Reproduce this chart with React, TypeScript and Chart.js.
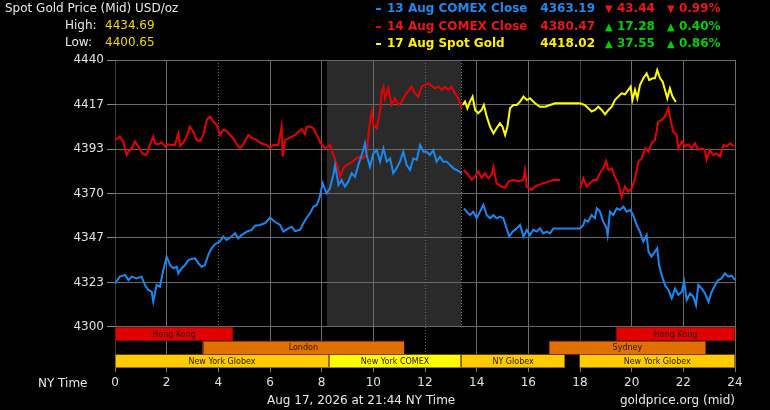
import React, { useEffect, useRef } from 'react';
import { Chart, registerables } from 'chart.js';

Chart.register(...registerables);

const FONT = '"DejaVu Sans", Verdana, sans-serif';

// ---- series data (hours NY time, USD/oz) ----
const blueHours = [0, 0.19, 0.39, 0.52, 0.65, 0.84, 1.03, 1.16, 1.29, 1.42, 1.48, 1.61, 1.74, 1.87, 2.0, 2.13, 2.26, 2.39, 2.45, 2.58, 2.71, 2.84, 2.97, 3.1, 3.23, 3.35, 3.48, 3.61, 3.74, 3.87, 4.06, 4.19, 4.32, 4.45, 4.65, 4.77, 4.9, 5.1, 5.29, 5.42, 5.61, 5.81, 6.0, 6.19, 6.39, 6.52, 6.71, 6.84, 6.97, 7.16, 7.29, 7.42, 7.55, 7.68, 7.81, 7.91, 8.04, 8.19, 8.32, 8.45, 8.52, 8.65, 8.77, 8.9, 9.03, 9.16, 9.29, 9.42, 9.55, 9.68, 9.74, 9.87, 10.0, 10.13, 10.26, 10.39, 10.52, 10.65, 10.77, 10.9, 11.03, 11.16, 11.29, 11.42, 11.55, 11.68, 11.81, 11.94, 12.06, 12.19, 12.32, 12.45, 12.58, 12.71, 12.84, 12.97, 13.1, 13.23, 13.35, 13.42, 13.46, 13.51, 13.61, 13.74, 13.87, 14.0, 14.13, 14.26, 14.39, 14.52, 14.65, 14.77, 14.9, 15.03, 15.16, 15.26, 15.39, 15.55, 15.68, 15.81, 15.94, 16.06, 16.19, 16.32, 16.45, 16.58, 16.71, 16.84, 16.97, 18.0, 18.13, 18.19, 18.32, 18.45, 18.58, 18.65, 18.77, 18.9, 19.03, 19.07, 19.16, 19.29, 19.42, 19.55, 19.68, 19.81, 19.94, 20.06, 20.19, 20.32, 20.45, 20.58, 20.65, 20.77, 20.9, 20.99, 21.06, 21.16, 21.29, 21.42, 21.55, 21.68, 21.81, 21.94, 22.03, 22.13, 22.26, 22.39, 22.49, 22.58, 22.71, 22.84, 22.97, 23.1, 23.23, 23.35, 23.48, 23.61, 23.74, 23.87, 24.0];
const blueValues = [4322.9, 4326.4, 4327.3, 4324.6, 4326.4, 4325.5, 4326.4, 4322, 4319.4, 4318.5, 4313.3, 4322, 4321.1, 4329.9, 4336.9, 4332.5, 4330.8, 4331.6, 4328.1, 4330.8, 4332.5, 4335.1, 4335.7, 4336, 4333.4, 4331.6, 4332.5, 4337.8, 4341.3, 4343.4, 4344.8, 4347.4, 4345.6, 4346.8, 4349.1, 4346.5, 4348.2, 4350, 4350.9, 4353.1, 4353.5, 4354.4, 4357.3, 4355.2, 4353.5, 4350, 4351.7, 4352.6, 4350.3, 4350.9, 4354.4, 4357.3, 4359.6, 4363.1, 4364, 4367.5, 4375.3, 4370.1, 4372.7, 4379.7, 4384.9, 4374.5, 4377.1, 4373.6, 4376.2, 4380.6, 4378.8, 4384.9, 4390.2, 4396.3, 4390.2, 4384.1, 4391, 4392.8, 4386.7, 4393.7, 4386.7, 4388.4, 4380.6, 4383.2, 4386.7, 4391.9, 4384.9, 4382.3, 4388.4, 4387.6, 4395.4, 4391.9, 4391.9, 4390.2, 4392.8, 4386.7, 4389.3, 4386.7, 4386.7, 4384.9, 4383.2, 4382.3, 4381.4, 4380.6, null, 4362.2, 4360.5, 4358.7, 4360.5, 4357, 4360.5, 4364, 4358.7, 4357, 4358.7, 4357, 4357.9, 4357, 4351.7, 4347.4, 4350, 4351.7, 4353.5, 4347.4, 4350.9, 4348.2, 4350.9, 4350, 4351.7, 4349.1, 4350, 4349.1, 4351.7, 4351.7, 4353.5, 4356.1, 4355.2, 4358.7, 4357, 4362.2, 4360.5, 4355.2, 4351.7, 4348.2, 4360.5, 4358.7, 4362.2, 4361.4, 4363.1, 4360.5, 4361.4, 4358.7, 4353.5, 4350, 4344.7, 4348.2, 4339.5, 4336.9, 4339.5, 4341.3, 4332.5, 4327.3, 4322, 4319.4, 4315, 4320.2, 4316.8, 4318.5, 4323.8, 4314.2, 4317.6, 4315.9, 4311.5, 4322, 4320.2, 4317.6, 4313.2, 4318.5, 4322, 4324.6, 4325.5, 4328.1, 4326.4, 4326.9, 4324.6];

const redHours = [0, 0.19, 0.32, 0.45, 0.52, 0.65, 0.77, 0.9, 1.03, 1.16, 1.25, 1.35, 1.48, 1.55, 1.68, 1.81, 1.94, 2.06, 2.19, 2.32, 2.45, 2.52, 2.65, 2.77, 2.9, 3.03, 3.16, 3.29, 3.42, 3.55, 3.68, 3.81, 3.94, 4.06, 4.19, 4.32, 4.45, 4.58, 4.71, 4.84, 4.97, 5.16, 5.29, 5.48, 5.68, 5.87, 6.0, 6.13, 6.32, 6.45, 6.49, 6.58, 6.77, 6.97, 7.1, 7.23, 7.35, 7.42, 7.55, 7.68, 7.81, 7.94, 8.13, 8.32, 8.45, 8.58, 8.71, 8.84, 8.97, 9.1, 9.23, 9.35, 9.48, 9.61, 9.74, 9.81, 9.87, 9.94, 10.0, 10.13, 10.26, 10.32, 10.39, 10.45, 10.58, 10.71, 10.84, 10.97, 11.1, 11.23, 11.35, 11.48, 11.61, 11.74, 11.87, 12.0, 12.13, 12.26, 12.39, 12.52, 12.65, 12.77, 12.9, 13.03, 13.16, 13.29, 13.42, 13.46, 13.5, 13.68, 13.81, 13.94, 14.06, 14.19, 14.32, 14.45, 14.58, 14.65, 14.77, 14.97, 15.1, 15.23, 15.42, 15.61, 15.81, 15.87, 15.94, 16.13, 16.26, 16.39, 16.58, 16.77, 16.97, 17.23, 17.5, 18.0, 18.13, 18.26, 18.39, 18.52, 18.65, 18.77, 18.9, 19.01, 19.1, 19.23, 19.35, 19.48, 19.61, 19.74, 19.87, 20.0, 20.13, 20.26, 20.39, 20.52, 20.65, 20.77, 20.9, 21.03, 21.16, 21.29, 21.42, 21.48, 21.61, 21.74, 21.81, 21.94, 22.06, 22.19, 22.32, 22.45, 22.58, 22.71, 22.84, 22.9, 23.03, 23.16, 23.29, 23.42, 23.55, 23.68, 23.81, 23.97];
const redValues = [4398, 4399.8, 4397.2, 4390.2, 4392, 4393.7, 4397.2, 4394.6, 4391.6, 4390.2, 4391, 4395.4, 4399.8, 4396.3, 4395.8, 4396.8, 4394.6, 4395.8, 4395.4, 4395.4, 4401.5, 4395, 4396.8, 4399.8, 4405, 4402.4, 4398, 4397.5, 4400.7, 4408.5, 4410.3, 4407.7, 4405.9, 4400.7, 4403.3, 4402.8, 4400.7, 4399, 4395.8, 4393.7, 4395.8, 4400.7, 4399.3, 4398, 4396.3, 4395.4, 4394, 4395.4, 4395.4, 4405, 4389.3, 4398, 4399.3, 4400.7, 4402.4, 4403.8, 4401, 4405, 4405, 4404.2, 4400.7, 4396.8, 4393.7, 4395.4, 4390.2, 4385.8, 4378.8, 4383.2, 4385, 4385.8, 4387, 4388.4, 4389.3, 4388.4, 4391, 4400.7, 4407.7, 4412.9, 4405.9, 4404.2, 4412.9, 4423.4, 4426, 4419.9, 4425.1, 4416.4, 4419.9, 4416.4, 4418.2, 4421.6, 4423.7, 4426, 4422.5, 4420.8, 4426, 4426.9, 4427.8, 4426.5, 4425.1, 4426, 4424.3, 4426, 4424.3, 4426, 4422.5, 4419.9, 4414.7, null, 4382.3, 4379.7, 4377.1, 4378.8, 4381.4, 4378.3, 4380.6, 4378, 4379.7, 4384, 4375.3, 4373.6, 4373, 4376.2, 4377.1, 4376.5, 4377.1, 4382.3, 4373.6, 4371.8, 4373.6, 4374.5, 4375.3, 4376.2, 4377.1, 4377.1, null, 4372.7, 4378, 4373.6, 4375.3, 4377.1, 4377.1, 4380.6, 4383.2, 4387, 4382.3, 4383.2, 4378.8, 4375.3, 4368.3, 4373.6, 4371, 4372.7, 4378, 4386.7, 4388.4, 4393.7, 4391.9, 4396.3, 4398, 4407.7, 4408.5, 4410.3, 4414.7, 4410.3, 4402.4, 4400.7, 4393.7, 4397.2, 4394.6, 4395.8, 4393.7, 4396.3, 4392.8, 4393.7, 4392.8, 4387.6, 4392.8, 4390.2, 4391, 4389.3, 4395.4, 4394.6, 4396.3, 4394.6];

const yellowHours = [13.46, 13.55, 13.64, 13.74, 13.84, 13.94, 14.06, 14.19, 14.28, 14.39, 14.52, 14.65, 14.77, 14.9, 15.0, 15.1, 15.19, 15.29, 15.42, 15.55, 15.68, 15.81, 15.94, 16.06, 16.26, 16.45, 16.65, 16.84, 17.03, 18.0, 18.19, 18.32, 18.45, 18.58, 18.71, 18.84, 18.97, 19.1, 19.23, 19.35, 19.48, 19.61, 19.74, 19.87, 19.96, 20.03, 20.13, 20.22, 20.32, 20.45, 20.58, 20.68, 20.81, 20.9, 20.99, 21.1, 21.2, 21.29, 21.38, 21.48, 21.58, 21.71];
const yellowValues = [4416.4, 4418.2, 4414.7, 4418.2, 4420.8, 4413.8, 4412.1, 4413.8, 4416.4, 4410.3, 4405, 4401.5, 4404.2, 4406.8, 4405, 4400.7, 4405, 4414.7, 4416.4, 4416.4, 4418.2, 4420.8, 4419, 4419.9, 4417.3, 4415.5, 4415.5, 4416.4, 4417.3, 4417.3, 4416.4, 4414.7, 4413, 4413.8, 4415.5, 4413.8, 4411.5, 4413.8, 4415.5, 4419, 4420.8, 4422.5, 4422, 4424.3, 4426, 4419, 4424.3, 4419.9, 4426.9, 4430.4, 4433, 4429.5, 4430.4, 4430.4, 4434.7, 4430.4, 4428.6, 4424.3, 4419.9, 4425.1, 4420.8, 4418];

// ---- axes ----
const yTickValues = [4300, 4323.33, 4346.67, 4370, 4393.33, 4416.67, 4440];
const xTickValues = [0, 2, 4, 6, 8, 10, 12, 14, 16, 18, 20, 22, 24];
const dottedHours = [4, 12];
const darkGridHours = [0, 18];
const shadeStart = 8.2;
const shadeEnd = 13.4;

// ---- trading sessions ----
const sessionNames = ['Hong Kong', 'London', 'New York Globex', 'New York COMEX', 'NY Globex', 'Sydney', 'Hong Kong', 'New York Globex'];
const sessionStart = [0, 3.39, 0, 8.28, 13.4, 16.8, 19.4, 17.98];
const sessionEnd = [4.57, 11.19, 8.28, 13.4, 17.42, 22.87, 24, 24];
const sessionRow = [0, 1, 2, 2, 2, 1, 0, 2];
const sessionColors = ['#e00000', '#e07000', '#ffcc00', '#ffff00', '#ffcc00', '#e07000', '#e00000', '#ffcc00'];
const rowEdges = [4300, 4292.7, 4285.6, 4278.5];

// ---- header / legend ----
const legendLabels = ['13 Aug COMEX Close', '14 Aug COMEX Close', '17 Aug Spot Gold'];
const legendPrices = ['4363.19', '4380.47', '4418.02'];
const legendChanges = ['43.44', '17.28', '37.55'];
const legendPcts = ['0.99%', '0.40%', '0.86%'];
const legendUp = [false, true, true];
const seriesColors = ['#1a88f0', '#e80000', '#ffff00'];
const legendTextColors = ['#2288ee', '#e81818', '#ffee00'];

const toPoints = (h: number[], v: (number | null)[]) => h.map((x, i) => ({ x, y: v[i] }));

const sessionPlugin = {
  id: 'sessions',
  beforeDraw(chart: any) {
    const { ctx, scales } = chart;
    const x = scales.x, y = scales.y;
    ctx.save();
    ctx.fillStyle = '#000';
    ctx.fillRect(0, 0, chart.width, chart.height);
    const x0 = x.getPixelForValue(shadeStart);
    const x1 = x.getPixelForValue(shadeEnd);
    const yT = y.getPixelForValue(4440);
    const yB = y.getPixelForValue(4300);
    ctx.fillStyle = '#2a2a2a';
    ctx.fillRect(x0, yT, x1 - x0, yB - yT);
    ctx.restore();
  },
  beforeDatasetsDraw(chart: any) {
    const { ctx, scales } = chart;
    const x = scales.x, y = scales.y;
    ctx.save();
    // dotted boundary at end of shaded session
    const xe = Math.round(x.getPixelForValue(shadeEnd)) + 0.5;
    ctx.strokeStyle = '#777';
    ctx.lineWidth = 1;
    ctx.setLineDash([1, 2]);
    ctx.beginPath();
    ctx.moveTo(xe, y.getPixelForValue(4440));
    ctx.lineTo(xe, y.getPixelForValue(4300));
    ctx.stroke();
    ctx.setLineDash([]);
    for (let i = 0; i < sessionNames.length; i++) {
      const a = x.getPixelForValue(sessionStart[i]);
      const b = x.getPixelForValue(sessionEnd[i]);
      const t = y.getPixelForValue(rowEdges[sessionRow[i]]);
      const bt = y.getPixelForValue(rowEdges[sessionRow[i] + 1]);
      ctx.fillStyle = sessionColors[i];
      ctx.fillRect(a, t, b - a, bt - t);
      ctx.strokeStyle = 'rgba(80,20,0,0.55)';
      ctx.lineWidth = 1;
      ctx.strokeRect(Math.round(a) + 0.5, Math.round(t) + 0.5, Math.round(b - a) - 1, Math.round(bt - t) - 1);
      ctx.fillStyle = '#2a1200';
      ctx.font = `8px ${FONT}`;
      ctx.textAlign = 'center';
      ctx.textBaseline = 'middle';
      ctx.fillText(sessionNames[i], (a + b) / 2, (t + bt) / 2 + 0.5);
    }
    ctx.restore();
  },
};

function GoldChart() {
  const ref = useRef<HTMLCanvasElement | null>(null);
  useEffect(() => {
    if (!ref.current) return;
    const chart = new Chart(ref.current, {
      type: 'line',
      data: {
        datasets: [
          { label: legendLabels[0], data: toPoints(blueHours, blueValues), borderColor: seriesColors[0], borderWidth: 2, pointRadius: 0, spanGaps: false, tension: 0 },
          { label: legendLabels[1], data: toPoints(redHours, redValues), borderColor: seriesColors[1], borderWidth: 2, pointRadius: 0, spanGaps: false, tension: 0 },
          { label: legendLabels[2], data: toPoints(yellowHours, yellowValues), borderColor: seriesColors[2], borderWidth: 2, pointRadius: 0, spanGaps: false, tension: 0 },
        ],
      },
      options: {
        animation: false,
        responsive: false,
        events: [],
        layout: { padding: { left: 0, right: 35, top: 60, bottom: 0 } },
        plugins: { legend: { display: false }, tooltip: { enabled: false }, title: { display: false } },
        scales: {
          x: {
            type: 'linear',
            min: 0,
            max: 24,
            afterBuildTicks: (s: any) => { s.ticks = xTickValues.map((v) => ({ value: v })); },
            afterFit: (s: any) => { s.height = 42; },
            grid: {
              color: (c: any) => (c.tick && darkGridHours.includes(c.tick.value) ? '#3c3c3c' : '#6a6a6a'),
              lineWidth: 1,
              tickLength: 4,
              tickColor: '#777',
            },
            border: {
              display: false,
              dash: (c: any) => (c.tick && dottedHours.includes(c.tick.value) ? [1, 2] : []),
            },
            ticks: {
              color: '#e0e0e0',
              font: { family: FONT, size: 12 },
              padding: 4,
              maxRotation: 0,
              autoSkip: false,
              callback: (v: any) => String(v),
            },
          },
          y: {
            type: 'linear',
            min: 4278.5,
            max: 4440,
            afterBuildTicks: (s: any) => { s.ticks = yTickValues.map((v) => ({ value: v })); },
            afterFit: (s: any) => { s.width = 115; },
            grid: { color: '#6a6a6a', lineWidth: 1, tickLength: 8, tickColor: '#888' },
            border: { display: false },
            ticks: {
              color: '#e0e0e0',
              font: { family: FONT, size: 12 },
              padding: 3,
              autoSkip: false,
              callback: (v: any) => String(Math.round(Number(v))),
            },
          },
        },
      } as any,
      plugins: [sessionPlugin],
    });
    return () => chart.destroy();
  }, []);

  const base: React.CSSProperties = {
    position: 'absolute',
    font: `12px ${FONT}`,
    lineHeight: '14px',
    whiteSpace: 'nowrap',
    color: '#e8e8e8',
  };
  const rowTops = [1.3, 18.7, 36.3];

  return (
    <div style={{ position: 'fixed', left: 0, top: 0, width: 770, height: 410, background: '#000', overflow: 'hidden' }}>
      <canvas ref={ref} width={770} height={410} style={{ position: 'absolute', left: 0, top: 0, display: 'block' }} />
      <div style={{ ...base, left: 5, top: 1 }}>Spot Gold Price (Mid) USD/oz</div>
      <div style={{ ...base, left: 65, top: 17.5 }}>High:</div>
      <div style={{ ...base, left: 105, top: 17.5, color: '#f2d600' }}>4434.69</div>
      <div style={{ ...base, left: 65, top: 35 }}>Low:</div>
      <div style={{ ...base, left: 105, top: 35, color: '#f2d600' }}>4400.65</div>
      {legendLabels.map((lab, i) => {
        const top = rowTops[i];
        const chColor = legendUp[i] ? '#00d000' : '#e81818';
        const arrow = legendUp[i] ? '▲' : '▼';
        return (
          <React.Fragment key={lab}>
            <div style={{ position: 'absolute', left: 376, top: top + 7, width: 5, height: 2, background: seriesColors[i] }} />
            <div style={{ ...base, left: 387, top, color: legendTextColors[i], fontWeight: 'bold' }}>{lab}</div>
            <div style={{ ...base, right: 770 - 595, top, color: legendTextColors[i], fontWeight: 'bold' }}>{legendPrices[i]}</div>
            <div style={{ ...base, left: 605, top, color: chColor, fontWeight: 'bold' }}>
              <span style={{ fontSize: 10 }}>{arrow}</span> {legendChanges[i]}
            </div>
            <div style={{ ...base, left: 667, top, color: chColor, fontWeight: 'bold' }}>
              <span style={{ fontSize: 10 }}>{arrow}</span> {legendPcts[i]}
            </div>
          </React.Fragment>
        );
      })}
      <div style={{ ...base, left: 38, top: 375.5 }}>NY Time</div>
      <div style={{ ...base, left: 267, top: 393 }}>Aug 17, 2026 at 21:44 NY Time</div>
      <div style={{ ...base, right: 770 - 735, top: 393 }}>goldprice.org (mid)</div>
    </div>
  );
}

export default function App() {
  return <GoldChart />;
}
